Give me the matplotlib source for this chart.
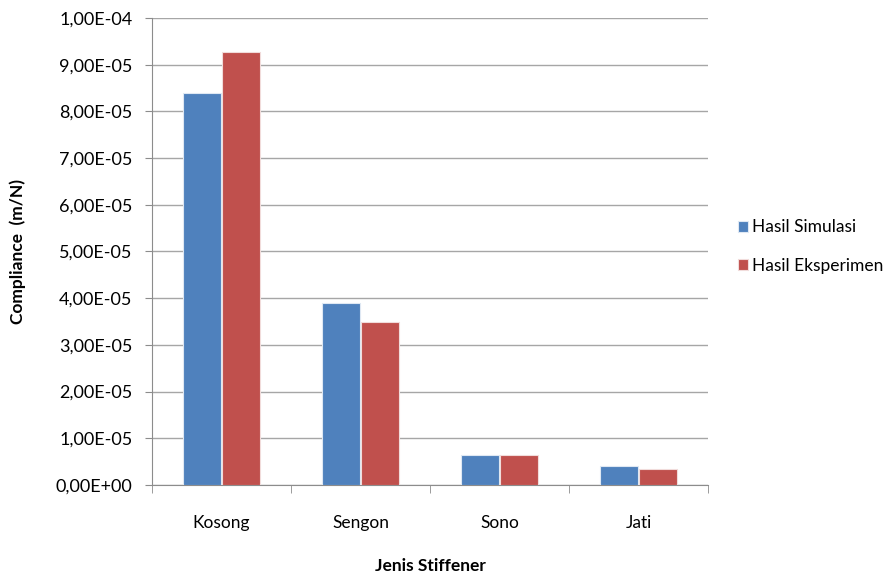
import numpy as np
import matplotlib.pyplot as plt
from matplotlib.ticker import FuncFormatter

plt.rcParams['font.family'] = ['Lato', 'DejaVu Sans']

categories = ["Kosong", "Sengon", "Sono", "Jati"]
simulasi = [8.4e-5, 3.9e-5, 6.5e-6, 4.0e-6]
eksperimen = [9.27e-5, 3.48e-5, 6.5e-6, 3.5e-6]

def sci_comma(v, pos):
    s = "%.2E" % v
    mant, exp = s.split("E")
    sign = exp[0]
    digits = exp[1:].zfill(2)
    return mant.replace(".", ",") + "E" + sign + digits

fig = plt.figure(figsize=(8.93, 5.8), dpi=100)
ax = fig.add_axes([0.170, 0.164, 0.623, 0.805])

x = np.arange(len(categories))
w = 0.27
ax.bar(x - w/2 - 0.005, simulasi, w, color="#4F81BD", edgecolor="#dfe8f3", linewidth=0.8,
       label="Hasil Simulasi", zorder=3)
ax.bar(x + w/2 + 0.005, eksperimen, w, color="#C0504D", edgecolor="#f1dcdb", linewidth=0.8,
       label="Hasil Eksperimen", zorder=3)

ax.set_xlim(-0.5, len(categories) - 0.5)
ax.set_ylim(0, 1e-4)
ax.set_yticks(np.arange(0, 1.01e-4, 1e-5))
ax.yaxis.set_major_formatter(FuncFormatter(sci_comma))
ax.grid(axis="y", color="#a6a6a6", linewidth=1, zorder=0)

ax.set_xticks(x)
ax.set_xticklabels(categories, fontsize=12.5)
ax.set_xticks(np.arange(-0.5, len(categories)), minor=True)
ax.tick_params(axis="x", which="major", length=0, pad=22)
ax.tick_params(axis="x", which="minor", length=6, color="#8c8c8c", direction="out")
ax.tick_params(axis="y", labelsize=13, length=5, color="#8c8c8c", pad=9)

for side in ["top", "right"]:
    ax.spines[side].set_visible(False)
ax.spines["left"].set_color("#8c8c8c")
ax.spines["bottom"].set_color("#8c8c8c")

ax.set_ylabel("Compliance  (m/N)", fontsize=12.5, fontweight="bold")
ax.yaxis.set_label_coords(-0.241, 0.5)
ax.set_xlabel("Jenis Stiffener", fontsize=12.5, fontweight="bold")
ax.xaxis.set_label_coords(0.5, -0.173)
ax.xaxis.label.set_va("center")
ax.yaxis.label.set_va("center")

ax.legend(loc="center left", bbox_to_anchor=(1.025, 0.51), frameon=False, fontsize=12.5,
          handlelength=0.6, handleheight=0.6, handletextpad=0.25, labelspacing=1.3)

fig.savefig("out.png", dpi=100)
